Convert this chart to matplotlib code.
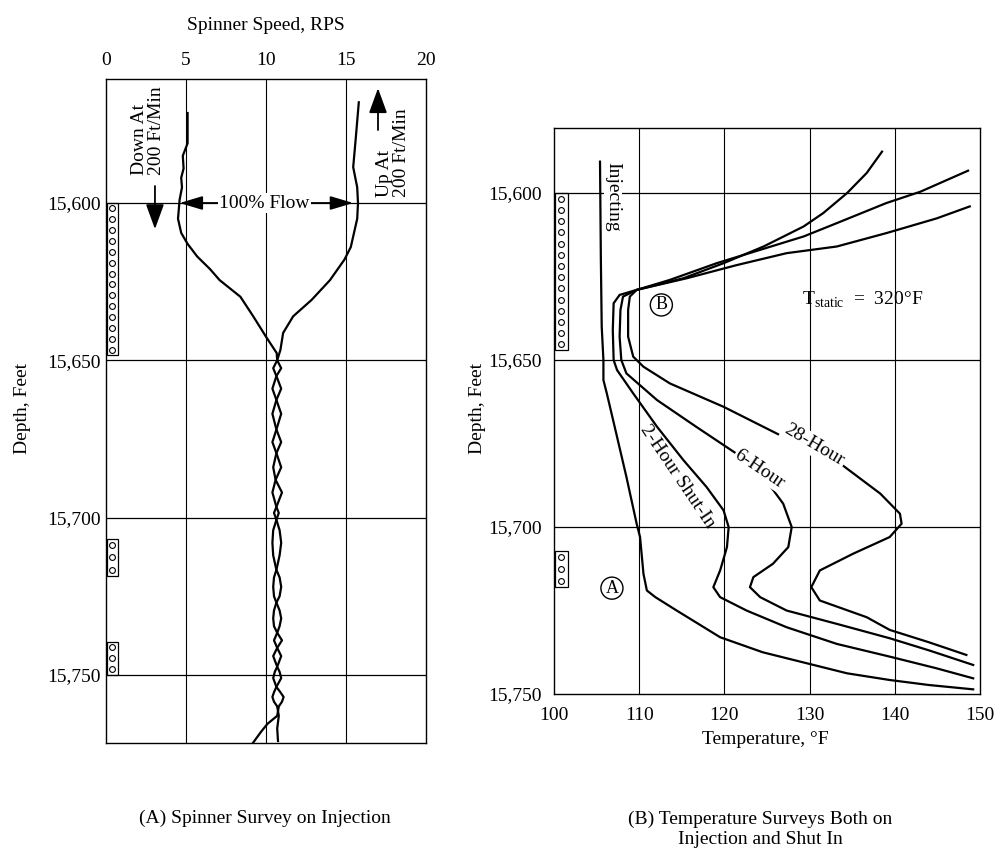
import numpy as np
import matplotlib
matplotlib.use("Agg")
import matplotlib.pyplot as plt
from matplotlib.patches import Rectangle

plt.rcParams['font.family'] = ['Liberation Serif', 'DejaVu Serif']
plt.rcParams['mathtext.fontset'] = 'custom'
plt.rcParams['mathtext.rm'] = 'Liberation Serif'
plt.rcParams['font.size'] = 14

# ---------------- data ----------------
depth_ticks = [15600, 15650, 15700, 15750]
depth_labels = ['15,600', '15,650', '15,700', '15,750']
spin_ticks = [0, 5, 10, 15, 20]
temp_ticks = [100, 110, 120, 130, 140, 150]

# (A) spinner survey, down pass and up pass
down_depth = [15571.4, 15581, 15585, 15589, 15592, 15595, 15599, 15605, 15609.5, 15613,
              15617, 15621, 15624.5, 15629.8, 15636, 15642.5, 15647.7, 15650, 15652.5, 15655,
              15659, 15662.6, 15667, 15672, 15676, 15679.5, 15684, 15688, 15692, 15696.6,
              15698.5, 15700.7, 15704, 15708, 15712, 15716.6, 15719, 15722, 15725, 15727,
              15729.5, 15732, 15734.5, 15736.6, 15739, 15741.4, 15744, 15747.4, 15749, 15751,
              15753.8, 15755.5, 15757, 15758.5, 15760, 15763, 15765.5, 15768, 15771.5]
down_rps = [5.1, 5.1, 4.8, 4.85, 4.7, 4.75, 4.6, 4.5, 4.7, 5.1,
            5.7, 6.5, 7.1, 8.4, 9.2, 10.0, 10.67, 10.7, 10.45, 10.65,
            10.95, 10.65, 10.4, 10.65, 10.95, 10.65, 10.45, 10.6, 11.0, 10.65,
            10.5, 10.65, 10.85, 10.95, 10.85, 10.65, 10.5, 10.45, 10.5, 10.65,
            10.85, 10.95, 10.85, 10.7, 10.5, 10.7, 10.95, 10.7, 10.55, 10.45,
            10.65, 10.9, 11.1, 11.0, 10.8, 10.7, 10.1, 9.7, 9.2]

up_depth = [15568, 15580, 15588.6, 15595, 15600, 15605, 15609.5, 15614, 15618, 15624.5,
            15630.8, 15636, 15641.3, 15646.7, 15650, 15652.5, 15655, 15659, 15662.6, 15667,
            15672, 15676, 15679.5, 15684, 15688, 15692, 15696.6, 15698.5, 15700.7, 15704,
            15708, 15712, 15716.6, 15719, 15722, 15725, 15727, 15729.5, 15732, 15734.5,
            15736.6, 15739, 15741.4, 15744, 15747.4, 15749, 15751, 15753.8, 15755.5, 15757,
            15758.5, 15760, 15763, 15767, 15771]
up_rps = [15.8, 15.6, 15.45, 15.7, 15.75, 15.7, 15.5, 15.3, 14.9, 14.0,
          12.85, 11.7, 11.07, 10.9, 10.7, 10.95, 10.65, 10.4, 10.65, 10.95,
          10.65, 10.4, 10.65, 10.95, 10.6, 10.4, 10.65, 10.8, 10.65, 10.45,
          10.4, 10.45, 10.65, 10.85, 10.95, 10.85, 10.65, 10.5, 10.45, 10.5,
          10.7, 11.0, 10.7, 10.45, 10.7, 10.85, 10.95, 10.65, 10.5, 10.4,
          10.5, 10.7, 10.8, 10.7, 10.75]

# perforated intervals: (top, bottom, number of holes)
perfs_a = [(15600, 15648.3, 14), (15706.8, 15718.5, 3), (15739.5, 15750, 3)]
perfs_b = [(15600, 15647, 14), (15707.2, 15718, 3)]

# (B) temperature surveys
inj_temp = [105.4, 105.5, 105.6, 105.8, 105.8, 106.2, 107.4, 108.5, 109.7, 110.1, 110.5,
            110.9, 111.9, 114.4, 119.5, 124.5, 128.9, 134.4, 139.4, 144.0, 149.2]
inj_depth = [15590.6, 15620, 15640, 15650, 15656, 15660, 15673, 15685, 15699, 15703, 15714,
             15719, 15721, 15725, 15733, 15737.5, 15740.3, 15743.8, 15745.8, 15747.3, 15748.6]

sh2_temp = [138.5, 136.7, 134.4, 131.6, 129.3, 124.6, 119.9, 115.2, 109.7, 107.7, 107.0,
            106.9, 107.0, 107.4, 109.3, 112.1, 115.2, 117.9, 119.9, 120.5, 120.3, 119.5,
            118.7, 119.5, 122.6, 127.3, 133.2, 139.4, 144.9, 149.2]
sh2_depth = [15587.6, 15594, 15600, 15606, 15610, 15616, 15621, 15625.5, 15629, 15630.5, 15633,
             15641, 15650, 15653, 15660, 15670, 15680, 15688, 15695, 15700, 15706, 15713,
             15718, 15721, 15725, 15730, 15735, 15738.8, 15742.3, 15745.3]

sh6_temp = [148.6, 143.0, 139.0, 133.2, 129.3, 124.2, 119.1, 113.6, 109.7, 108.1, 107.8,
            107.7, 107.9, 108.5, 112.1, 116.7, 121.4, 124.6, 126.9, 127.9, 127.5, 125.7,
            123.4, 123.0, 124.2, 127.3, 133.2, 139.4, 144.1, 149.2]
sh6_depth = [15593.3, 15599.6, 15603, 15609, 15613, 15617, 15621, 15626, 15629, 15631, 15635,
             15643, 15650, 15654, 15662, 15670, 15678, 15685, 15693, 15700, 15706, 15711,
             15715, 15718, 15721, 15725, 15729, 15733.3, 15737, 15741.3]

sh28_temp = [148.8, 144.9, 139.0, 133.2, 127.3, 121.4, 115.6, 109.7, 108.9, 108.7, 108.7,
             109.3, 110.5, 113.6, 119.9, 127.7, 133.6, 138.3, 140.6, 140.8, 139.4, 135.1,
             131.2, 130.2, 131.2, 136.7, 139.4, 144.0, 148.4]
sh28_depth = [15604, 15607.6, 15612, 15616, 15618, 15621.6, 15625.5, 15629, 15631, 15635, 15643,
              15649, 15652, 15657, 15664, 15674, 15681, 15690, 15696, 15699, 15703, 15708,
              15713, 15718, 15722, 15727, 15730.8, 15734.5, 15738.3]


def draw_perfs(ax, perfs, x0, w):
    for top, bot, n in perfs:
        ax.add_patch(Rectangle((x0, top), w, bot - top, fill=False, ec='k', lw=0.9, zorder=3))
        step = (bot - top) / n
        ys = top + step * (np.arange(n) + 0.5)
        ax.plot(np.full(n, x0 + w / 2), ys, 'o', mfc='white', mec='k', ms=4.2, mew=0.8,
                zorder=4, clip_on=False)


def arrow(ax, start, end, hl=1.1, hw=0.4):
    ax.annotate('', xy=end, xytext=start,
                arrowprops=dict(arrowstyle=f'-|>,head_length={hl},head_width={hw}',
                                color='k', lw=1.3, mutation_scale=14,
                                shrinkA=0, shrinkB=0))


fig = plt.figure(figsize=(10, 8.5), dpi=100)

# ---------------- (A) spinner survey ----------------
axA = fig.add_axes([0.106, 0.126, 0.32, 0.781])
axA.plot(down_rps, down_depth, color='k', lw=1.6)
axA.plot(up_rps, up_depth, color='k', lw=1.6)
axA.set_xlim(0, 20)
axA.set_ylim(15771.6, 15560.6)
axA.set_xticks(spin_ticks)
axA.set_yticks(depth_ticks)
axA.set_yticklabels(depth_labels)
axA.xaxis.tick_top()
axA.tick_params(length=0)
axA.tick_params(axis='x', pad=7)
axA.tick_params(axis='y', pad=4)
for v in [5, 10, 15]:
    axA.axvline(v, color='k', lw=0.8, zorder=1)
for d in depth_ticks:
    axA.axhline(d, color='k', lw=0.9, zorder=1)
for s in axA.spines.values():
    s.set_linewidth(1.0)
draw_perfs(axA, perfs_a, 0.05, 0.7)

axA.text(2.6, 15591.1, 'Down At\n200 Ft/Min', rotation=90, ha='center', va='bottom',
         multialignment='left', linespacing=1.0)
arrow(axA, (3.06, 15594.6), (3.06, 15608.3))
axA.text(17.95, 15598.1, 'Up At\n200 Ft/Min', rotation=90, ha='center', va='bottom',
         multialignment='left', linespacing=1.0)
arrow(axA, (17.0, 15576.8), (17.0, 15563.5))
axA.text(9.9, 15600, '100% Flow', ha='center', va='center',
         bbox=dict(fc='white', ec='none', pad=1), zorder=5)
arrow(axA, (7.0, 15600), (4.6, 15600), hl=1.0, hw=0.3)
arrow(axA, (12.75, 15600), (15.45, 15600), hl=1.0, hw=0.3)

fig.text(0.266, 1 - 25 / 850, 'Spinner Speed, RPS', ha='center', va='center')
fig.text(0.023, 1 - 408 / 850, 'Depth, Feet', rotation=90, ha='center', va='center')
fig.text(0.265, 1 - 818 / 850, '(A) Spinner Survey on Injection', ha='center', va='center')

# ---------------- (B) temperature surveys ----------------
axB = fig.add_axes([0.554, 0.1835, 0.426, 0.666])
for t, d in [(inj_temp, inj_depth), (sh2_temp, sh2_depth),
             (sh6_temp, sh6_depth), (sh28_temp, sh28_depth)]:
    axB.plot(t, d, color='k', lw=1.6, zorder=2)
axB.set_xlim(100, 150)
axB.set_ylim(15750, 15580.5)
axB.set_xticks(temp_ticks)
axB.set_yticks(depth_ticks)
axB.set_yticklabels(depth_labels)
axB.tick_params(length=0)
axB.tick_params(axis='x', pad=9)
axB.tick_params(axis='y', pad=9)
for v in [110, 120, 130, 140]:
    axB.axvline(v, color='k', lw=0.8, zorder=1)
for d in [15600, 15650, 15700]:
    axB.axhline(d, color='k', lw=0.9, zorder=1)
for s in axB.spines.values():
    s.set_linewidth(1.0)
draw_perfs(axB, perfs_b, 100.1, 1.5)

axB.text(106.9, 15601.2, 'Injecting', rotation=-90, ha='center', va='center',
         bbox=dict(fc='white', ec='none', pad=0.3), zorder=1.5)
axB.text(112.6, 15633.5, 'B', ha='center', va='center', fontsize=13,
         bbox=dict(boxstyle='circle,pad=0.14', fc='white', ec='k', lw=1.0), zorder=5)
axB.text(106.8, 15718.3, 'A', ha='center', va='center', fontsize=13,
         bbox=dict(boxstyle='circle,pad=0.14', fc='white', ec='k', lw=1.0), zorder=5)
axB.text(129.1, 15632, r'T$_\mathrm{static}$  =  320°F', ha='left', va='center')
axB.text(114.5, 15684.9, '2-Hour Shut-In', rotation=-56, rotation_mode='anchor',
         ha='center', va='center', zorder=5)
axB.text(124.1, 15682.8, '6-Hour', rotation=-34, rotation_mode='anchor',
         ha='center', va='center', bbox=dict(fc='white', ec='none', pad=0.5), zorder=5)
axB.text(130.5, 15675.5, '28-Hour', rotation=-30.5, rotation_mode='anchor',
         ha='center', va='center', bbox=dict(fc='white', ec='none', pad=1.5), zorder=5)

fig.text(0.765, 1 - 740 / 850, 'Temperature, °F', ha='center', va='center')
fig.text(0.478, 1 - 408 / 850, 'Depth, Feet', rotation=90, ha='center', va='center')
fig.text(0.760, 1 - 829 / 850, '(B) Temperature Surveys Both on\nInjection and Shut In',
         ha='center', va='center', linespacing=1.25)

fig.savefig('out.png', dpi=100)
